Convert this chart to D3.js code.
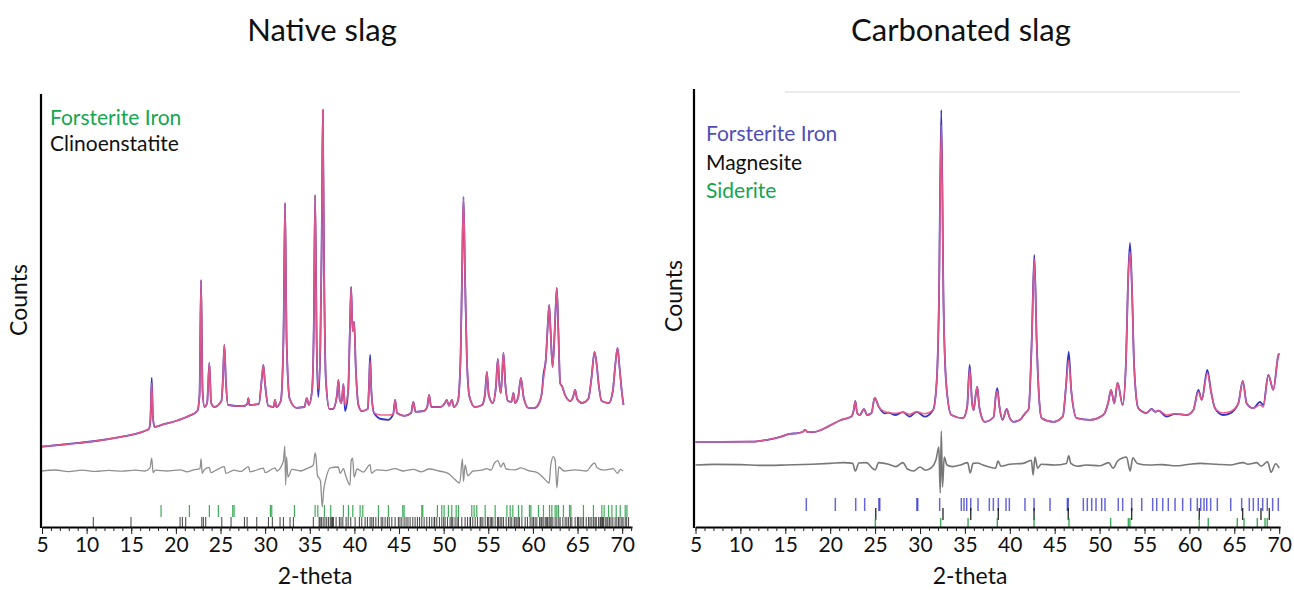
<!DOCTYPE html>
<html>
<head>
<meta charset="utf-8">
<script src="https://cdn.jsdelivr.net/npm/d3@7"></script>
<style>
  body { margin: 0; background: #fff; }
  text { font-family: Lato, "Open Sans", sans-serif; fill: #111; }
</style>
</head>
<body>
<div id="chart"></div>
<script>
// ---------- data (2-theta, counts) ----------
const tickLabels = [5, 10, 15, 20, 25, 30, 35, 40, 45, 50, 55, 60, 65, 70];

const nativeObs = [
  [5.0, 2010], [8, 2075], [11, 2150], [14, 2260], [15.5, 2330], [16.5, 2400], [17.0, 2460],
  [17.15, 2700], [17.29, 3725], [17.43, 2750], [17.6, 2500], [18.5, 2560], [20, 2650], [21.5, 2780],
  [22.4, 2900], [22.65, 3300], [22.82, 6175], [22.99, 3400], [23.2, 3000], [23.5, 3100], [23.75, 4100],
  [23.95, 3100], [24.3, 3000], [25.1, 3150], [25.27, 3700], [25.43, 4550], [25.6, 3650], [25.85, 3050],
  [27.5, 3020], [28.0, 3080], [28.12, 3220], [28.25, 3050], [29.3, 3080], [29.62, 3700], [29.8, 4050],
  [29.98, 3600], [30.35, 3030], [30.95, 3000], [31.11, 3180], [31.25, 3000], [31.75, 3150], [32.05, 4700],
  [32.23, 8100], [32.41, 4600], [32.75, 3200], [33.5, 2980], [34.4, 3000], [34.66, 3220], [34.9, 3050],
  [35.25, 3400], [35.45, 5000], [35.6, 8300], [35.78, 4500], [35.95, 3250], [36.18, 4500], [36.33, 7000],
  [36.46, 10425], [36.6, 6500], [36.8, 3700], [37.2, 2950], [37.6, 2950], [38.05, 3300], [38.21, 3675],
  [38.35, 3200], [38.55, 3100], [38.77, 3575], [38.95, 2900], [39.3, 3400], [39.48, 4800], [39.63, 6000],
  [39.8, 4900], [39.97, 5125], [40.15, 4000], [40.45, 3050], [40.8, 2900], [41.5, 2950], [41.63, 3500],
  [41.76, 4300], [41.9, 3400], [42.2, 2850], [43.0, 2700], [43.8, 2680], [44.35, 2820], [44.56, 3175],
  [44.78, 2850], [45.6, 2780], [46.35, 2850], [46.6, 3125], [46.85, 2880], [47.8, 2900], [48.15, 3000],
  [48.37, 3300], [48.6, 3000], [49.6, 3000], [50.15, 3100], [50.35, 3175], [50.6, 3030], [50.91, 3175],
  [51.15, 3000], [51.6, 3150], [51.9, 4300], [52.05, 6200], [52.22, 8250], [52.4, 6200], [52.6, 4200],
  [52.9, 3250], [53.5, 3000], [54.3, 3050], [54.62, 3300], [54.84, 3875], [55.05, 3300], [55.5, 3100],
  [55.85, 3500], [56.07, 4200], [56.25, 3550], [56.4, 3350], [56.55, 3800], [56.7, 4350], [56.9, 3600],
  [57.2, 3150], [57.6, 3130], [57.82, 3350], [58.0, 3100], [58.35, 3250], [58.65, 3725], [58.95, 3250],
  [59.5, 2980], [60.2, 2980], [60.7, 3100], [61.0, 3350], [61.18, 3800], [61.45, 4200], [61.65, 5000],
  [61.82, 5550], [61.98, 4900], [62.2, 4000], [62.4, 4700], [62.55, 5500], [62.68, 5975], [62.85, 4900],
  [63.05, 3600], [63.3, 3500], [63.6, 3300], [64.2, 3150], [64.5, 3250], [64.73, 3425], [64.95, 3200],
  [65.5, 3100], [66.2, 3200], [66.55, 3700], [66.9, 4375], [67.15, 4050], [67.35, 3600], [67.7, 3150],
  [68.5, 3100], [68.95, 3400], [69.25, 4100], [69.48, 4475], [69.7, 4000], [70.0, 3300], [70.15, 3050]
];
// points where the calculated curve departs from the observed one
const nativeCalcFix = [
  [17.29, 3600], [35.95, 3450], [38.95, 3050], [43.0, 2800], [43.8, 2800], [41.76, 4150], [61.18, 3700]
];
const nativeDiff = [
  [5, 0], [6.5, 25], [8, -15], [9.5, 20], [11, -10], [12.5, 15], [14, -5], [15.5, 20], [16.5, 0], [17.1, 80],
  [17.29, 320], [17.45, -40], [17.7, 20], [19, 0], [20.5, 30], [21.3, -20], [22.0, 30], [22.7, 60],
  [22.82, 300], [22.95, -60], [23.2, 40], [23.75, 90], [23.9, -40], [24.5, 20], [25.43, 110], [25.6, -60],
  [26.5, 20], [27.3, -10], [28.12, 110], [28.3, -20], [29.8, 70], [30.0, -40], [31.11, 80], [31.3, 0],
  [32.05, 250], [32.2, 620], [32.3, -350], [32.4, 350], [32.55, -150], [33.0, 40], [34.0, 0], [34.66, 60],
  [35.4, 150], [35.6, 450], [35.7, 350], [35.85, -100], [36.2, -250], [36.4, -900], [36.55, -500],
  [36.8, -200], [37.3, 80], [38.2, 100], [38.4, -60], [38.77, 60], [39.0, -100], [39.5, -350], [39.63, 250],
  [39.8, 320], [39.97, -150], [40.3, 50], [41.0, -30], [41.76, 160], [41.9, -50], [42.5, 30], [43.5, 10],
  [44.56, 60], [45.5, 0], [46.6, 40], [47.5, -20], [48.37, 50], [49.5, 0], [50.5, -60], [51.2, -200],
  [51.8, -300], [52.1, 300], [52.22, -260], [52.4, 150], [52.7, -120], [53.3, 0], [54.3, 20], [54.84, 60],
  [55.3, 20], [55.7, 200], [56.07, 260], [56.4, 100], [56.7, 200], [57.0, 50], [58.0, 30], [58.65, 80],
  [59.5, 10], [60.5, -40], [61.3, -200], [61.82, -300], [62.0, 150], [62.3, 360], [62.5, 250],
  [62.68, -420], [62.9, 100], [63.5, 0], [64.73, 30], [66.0, 0], [66.6, 150], [66.9, 200], [67.2, 80],
  [68.0, 20], [69.0, 60], [69.48, -60], [69.8, 40], [70.1, 0]
];
const nativeForsterite = [
  18.34, 21.51, 23.75, 24.76, 26.37, 26.52, 30.59, 30.74, 33.28, 35.6, 35.9, 36.64, 37.35, 38.77, 39.33,
  39.82, 40.64, 40.94, 42.69, 43.81, 45.42, 45.57, 47.55, 47.66, 49.3, 49.79, 50.05, 50.53, 50.91, 51.4,
  51.65, 53.15, 53.41, 53.71, 54.65, 55.77, 57.08, 57.45, 57.75, 58.38, 58.76, 59.61, 59.77, 60.62, 61.18,
  61.86, 62.12, 62.49, 62.68, 62.86, 63.42, 64.1, 64.25, 65.66, 66.78, 67.72, 67.98, 68.47, 68.85, 69.33,
  69.78, 70.34, 70.53
];
const nativeClino = [
  10.75, 14.97, 20.47, 20.73, 21.1, 22.9, 23.08, 23.34, 25.14, 26.18, 27.68, 27.98, 29.06, 30.37, 30.81,
  31.67, 32.05, 32.79, 33.17, 35.4, 36.05, 36.15, 36.3, 36.5, 36.7, 36.9, 37.1, 37.3, 37.45, 37.55, 37.65,
  37.95, 38.32, 38.5, 38.7, 39.07, 39.3, 39.59, 40.08, 40.56, 40.82, 41.2, 41.46, 41.76, 41.95, 42.13, 42.4,
  42.69, 43.0, 43.18, 43.44, 43.7, 43.9, 44.19, 44.56, 44.93, 45.1, 45.31, 45.57, 45.79, 46.0, 46.24, 46.54,
  46.8, 47.06, 47.3, 47.55, 47.81, 48.11, 48.41, 48.67, 48.93, 49.0, 49.23, 49.53, 49.79, 50.0, 50.16,
  50.43, 50.72, 50.9, 51.02, 51.28, 51.5, 51.66, 52.03, 52.4, 52.67, 52.96, 53.0, 53.26, 53.53, 53.79,
  54.09, 54.2, 54.39, 54.65, 54.91, 55.0, 55.21, 55.35, 55.51, 55.77, 56.03, 56.15, 56.33, 56.51, 56.7,
  57.0, 57.26, 57.45, 57.63, 57.9, 58.0, 58.19, 58.35, 58.49, 58.76, 59.13, 59.39, 59.69, 59.9, 60.06,
  60.25, 60.44, 60.74, 60.9, 61.0, 61.15, 61.37, 61.5, 61.63, 61.8, 61.93, 62.05, 62.23, 62.49, 62.68,
  62.9, 63.05, 63.35, 63.61, 63.8, 63.99, 64.2, 64.36, 64.73, 64.99, 65.1, 65.29, 65.5, 65.67, 65.97,
  66.23, 66.4, 66.6, 66.8, 66.97, 67.1, 67.35, 67.53, 67.6, 67.72, 67.8, 67.91, 68.1, 68.28, 68.4, 68.58,
  68.75, 68.95, 69.21, 69.4, 69.59, 69.75, 69.96, 70.1, 70.34, 70.5, 70.71
];

const carbObs = [
  [5.0, 2130], [8, 2130], [11.6, 2135], [13, 2180], [14.55, 2260], [15.5, 2330], [16.4, 2345],
  [16.95, 2380], [17.2, 2430], [17.5, 2370], [18.3, 2380], [19.75, 2510], [21.2, 2675], [22.35, 2760],
  [22.6, 2900], [22.8, 3150], [23.0, 2850], [23.3, 2800], [23.76, 2950], [24.1, 2800], [24.6, 2850],
  [24.95, 3230], [25.4, 3010], [26.07, 2840], [26.5, 2860], [27.2, 2800], [28.1, 2870], [28.85, 2760],
  [29.63, 2880], [30.5, 2760], [31.45, 2920], [31.85, 3600], [32.1, 5500], [32.37, 10425], [32.62, 5600],
  [32.93, 3550], [33.49, 2800], [34.79, 2720], [35.25, 3000], [35.53, 4050], [35.8, 3100], [35.97, 2920],
  [36.2, 3300], [36.38, 3510], [36.6, 3000], [37.2, 2630], [38.2, 2750], [38.45, 3300], [38.61, 3470],
  [38.85, 3000], [39.2, 2680], [39.65, 2950], [39.95, 2750], [40.39, 2630], [41.14, 2680], [41.7, 2840],
  [42.1, 2950], [42.45, 4700], [42.73, 6800], [43.0, 4600], [43.3, 3100], [43.55, 2720], [44.85, 2630],
  [45.9, 2760], [46.25, 3500], [46.56, 4375], [46.85, 3400], [47.45, 2720], [48.93, 2680], [50.41, 2800],
  [50.95, 3100], [51.27, 3430], [51.64, 3090], [52.0, 3610], [52.57, 3050], [52.95, 4200], [53.15, 6000],
  [53.38, 7100], [53.6, 6000], [53.85, 4000], [54.31, 2970], [55.2, 2850], [55.8, 2950], [56.2, 2880],
  [56.54, 2910], [57.47, 2760], [58.4, 2830], [59.7, 2800], [60.44, 2925], [61.0, 3430], [61.37, 3180],
  [62.0, 3930], [62.4, 3400], [62.85, 2970], [63.78, 2800], [64.52, 2840], [65.45, 3090], [65.94, 3650],
  [66.38, 3090], [67.12, 2970], [67.86, 3130], [68.23, 3050], [68.79, 3800], [69.34, 3430], [69.9, 4290],
  [70.0, 4340]
];
const carbCalcFix = [
  [32.37, 10050], [46.56, 4175], [53.38, 6880], [42.73, 6700], [26.07, 2880], [27.2, 2840],
  [28.85, 2820], [30.5, 2830], [35.53, 3950], [38.61, 3400], [57.47, 2800], [61.0, 3380], [62.0, 3850],
  [63.78, 2850], [64.52, 2880], [67.86, 3050], [68.23, 3000]
];
const carbDiff = [
  [5, 0], [7, 15], [10, 10], [12.5, -10], [15, 0], [18, 20], [20, 40], [21.5, 60], [22.5, 40],
  [22.8, -150], [23.2, 50], [24.0, 60], [25.0, -120], [25.4, 60], [26.5, 20], [27.3, -40], [28.1, 60],
  [28.6, -100], [29.3, -150], [30.0, -50], [30.6, -130], [31.3, -60], [31.8, 150], [32.1, 450],
  [32.25, -700], [32.37, 850], [32.5, -550], [32.7, 200], [33.0, 0], [33.6, -40], [34.5, 0], [35.3, 60],
  [35.6, -200], [35.9, 40], [36.4, 50], [37.0, 0], [38.4, -80], [38.7, 100], [39.0, -30], [40.0, 20],
  [41.5, 40], [42.4, 120], [42.6, -250], [42.8, 200], [43.1, -80], [43.5, 20], [45.0, 0], [46.3, 40],
  [46.56, 230], [46.8, 40], [47.5, -30], [48.5, 0], [50.0, -20], [51.0, 60], [51.5, -80], [52.0, 100],
  [52.6, 180], [53.0, 200], [53.4, -150], [53.7, 180], [54.2, 40], [55.5, 0], [57.0, 10], [58.5, -20],
  [60.0, 20], [61.2, 40], [62.0, 30], [63.0, 20], [64.5, 0], [66.0, 60], [66.5, 20], [67.5, 60],
  [68.0, -30], [68.7, 80], [69.1, -180], [69.6, 30], [70.0, -80]
];
const carbForsterite = [
  17.34, 20.57, 22.84, 23.84, 25.42, 25.52, 29.65, 29.75, 32.19, 34.6, 34.9, 35.2, 35.65, 36.46, 37.72,
  38.17, 38.72, 39.58, 39.95, 41.69, 42.7, 44.48, 46.41, 46.51, 48.19, 48.63, 49.12, 49.6, 50.23, 50.6,
  52.08, 52.57, 53.57, 54.69, 55.91, 56.36, 57.03, 57.65, 58.4, 59.25, 60.14, 60.88, 61.26, 61.63, 61.93,
  62.37, 63.11, 64.6, 65.82, 66.67, 67.12, 67.67, 68.16, 68.67, 69.27, 69.9
];
const carbMagnesite = [25.07, 32.56, 35.65, 38.72, 42.7, 46.51, 53.57, 61.1, 65.93, 67.97, 68.9];
const carbSiderite = [25.03, 32.3, 35.35, 38.61, 42.7, 46.59, 51.23, 53.2, 53.38, 61.1, 62.1, 65.33, 66.08, 67.56, 68.42, 68.67];

// ---------- drawing ----------
const W = 1294, H = 590;
const svg = d3.select("#chart").append("svg").attr("width", W).attr("height", H);

// both panels share the same counts scale
const yScale = d3.scaleLinear().domain([0, 11000]).range([527, 87]);

class XrdPanel {
    constructor(svg, cfg) {
        this.svg = svg;
        this.cfg = cfg;
    }

    withFixes(obs, fixes) {
        return obs.map(([t, c]) => {
            const f = fixes.find(d => Math.abs(d[0] - t) < 1e-6);
            return f ? [t, f[1]] : [t, c];
        });
    }

    render() {
        const c = this.cfg;
        const g = this.svg.append("g").attr("class", "panel");
        const x = d3.scaleLinear().domain(c.xDomain).range(c.xRange);

        const line = d3.line()
            .x(d => x(d[0]))
            .y(d => yScale(d[1]))
            .curve(d3.curveMonotoneX);

        // title + axis titles
        g.append("text")
            .attr("x", c.titleX).attr("y", 41)
            .attr("text-anchor", "middle")
            .style("font-size", "31px")
            .text(c.title);

        g.append("text")
            .attr("transform", `translate(${c.countsX},${c.countsY}) rotate(-90)`)
            .attr("text-anchor", "middle")
            .style("font-size", "23px")
            .text("Counts");

        g.append("text")
            .attr("x", c.thetaX).attr("y", 584)
            .attr("text-anchor", "middle")
            .style("font-size", "23px")
            .text("2-theta");

        if (c.frameTop) {
            g.append("line")
                .attr("x1", c.frameTop[0]).attr("x2", c.frameTop[1])
                .attr("y1", 92).attr("y2", 92)
                .style("stroke", "#e6e6e6").style("stroke-width", 1.5);
        }

        // reflection markers
        c.rows.forEach(row => {
            g.append("g").selectAll("line")
                .data(row.data)
                .join("line")
                .attr("x1", d => x(d)).attr("x2", d => x(d))
                .attr("y1", row.top).attr("y2", row.bottom)
                .style("stroke", row.color)
                .style("stroke-width", row.width || 1.2)
                .style("opacity", row.opacity || 0.85);
        });

        // difference curve
        const diffLine = d3.line()
            .x(d => x(d[0]))
            .y(d => yScale(c.diffOffset + d[1]))
            .curve(d3.curveMonotoneX);
        g.append("path")
            .datum(c.diff)
            .attr("d", diffLine)
            .style("fill", "none")
            .style("stroke", c.diffColor)
            .style("stroke-width", c.diffWidth);

        // observed (blue) under calculated (red)
        g.append("path")
            .datum(c.obs)
            .attr("d", line)
            .style("fill", "none")
            .style("stroke", "#3333c4")
            .style("stroke-width", 1.8);
        g.append("path")
            .datum(this.withFixes(c.obs, c.calcFix))
            .attr("d", line)
            .style("fill", "none")
            .style("stroke", "#ec5a88")
            .style("stroke-width", 1.6)
            .style("opacity", 0.92);

        // x axis: minor then labelled major ticks
        const axisY = yScale(0);
        const minorG = g.append("g").attr("transform", `translate(0,${axisY})`)
            .call(d3.axisBottom(x).tickValues(d3.range(5, c.lastMinor + 1)).tickSize(4).tickSizeOuter(0).tickFormat(""));
        minorG.select(".domain").style("stroke-width", 2);
        const majorG = g.append("g").attr("transform", `translate(0,${axisY})`)
            .call(d3.axisBottom(x).tickValues(tickLabels).tickSize(7).tickSizeOuter(0).tickPadding(3));
        majorG.select(".domain").remove();
        majorG.selectAll("text").style("font-size", "21px").style("font-family", "Lato, sans-serif").style("fill", "#111");
        g.selectAll(".tick line").style("stroke", "#222");

        // y axis line
        g.append("line")
            .attr("x1", c.yAxisX).attr("x2", c.yAxisX)
            .attr("y1", yScale(c.axisTop)).attr("y2", axisY + 1)
            .style("stroke", "#000").style("stroke-width", 2.2);

        // legend
        g.selectAll(".legend")
            .data(c.legend)
            .join("text")
            .attr("class", "legend")
            .attr("x", c.legendX)
            .attr("y", d => d.y)
            .style("font-size", "21px")
            .style("fill", d => d.color)
            .text(d => d.name);
    }
}

new XrdPanel(svg, {
    title: "Native slag", titleX: 322,
    countsX: 27, countsY: 300, thetaX: 315,
    xDomain: [5, 71.1], xRange: [42, 632], lastMinor: 71,
    yAxisX: 41, axisTop: 10825,
    obs: nativeObs, calcFix: nativeCalcFix,
    diff: nativeDiff, diffOffset: 1400, diffColor: "#8f8f8f", diffWidth: 1.3,
    rows: [
        { data: nativeForsterite, color: "#1f9e3f", top: 505, bottom: 517 },
        { data: nativeClino, color: "#1a1a1a", top: 517, bottom: 527, opacity: 0.75, width: 1.1 }
    ],
    legendX: 50,
    legend: [
        { name: "Forsterite Iron", color: "#14a650", y: 125 },
        { name: "Clinoenstatite", color: "#111", y: 151 }
    ]
}).render();

new XrdPanel(svg, {
    title: "Carbonated slag", titleX: 961,
    countsX: 682, countsY: 296, thetaX: 970,
    xDomain: [5, 70.1], xRange: [695.5, 1280.1], lastMinor: 70,
    yAxisX: 694, axisTop: 10950, frameTop: [785, 1240],
    obs: carbObs, calcFix: carbCalcFix,
    diff: carbDiff, diffOffset: 1550, diffColor: "#777", diffWidth: 1.6,
    rows: [
        { data: carbForsterite, color: "#3434d0", top: 498, bottom: 511, opacity: 0.75, width: 1.5 },
        { data: carbMagnesite, color: "#111", top: 508, bottom: 520, width: 1.4 },
        { data: carbSiderite, color: "#1f9e3f", top: 518, bottom: 527, width: 1.4 }
    ],
    legendX: 706,
    legend: [
        { name: "Forsterite Iron", color: "#4f4fb8", y: 141 },
        { name: "Magnesite", color: "#111", y: 170 },
        { name: "Siderite", color: "#14a650", y: 198 }
    ]
}).render();
</script>
</body>
</html>
